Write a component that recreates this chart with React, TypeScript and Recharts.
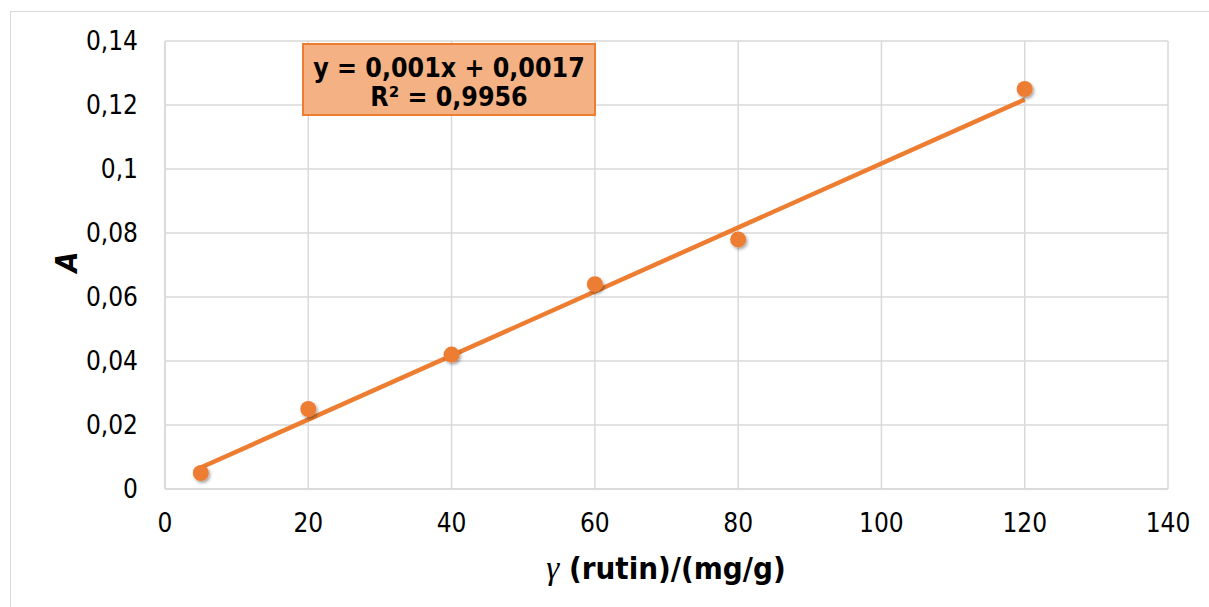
import React from "react";
import { ScatterChart, Scatter, XAxis, YAxis, CartesianGrid } from "recharts";

const concentrations = [5, 20, 40, 60, 80, 120];
const absorbances = [0.005, 0.025, 0.042, 0.064, 0.078, 0.125];
const trendX = [5, 120];
const trendY = [0.0067, 0.1217];
const xTicks = [0, 20, 40, 60, 80, 100, 120, 140];
const yTicks = [0, 0.02, 0.04, 0.06, 0.08, 0.1, 0.12, 0.14];
const equationLine = "y = 0,001x + 0,0017";
const r2Line = "R² = 0,9956";

const points = concentrations.map((x, i) => ({ x, y: absorbances[i] }));
const trend = trendX.map((x, i) => ({ x, y: trendY[i] }));

const ORANGE = "#ED7D31";
const GRID = "#D9D9D9";
const FONT = "'DejaVu Sans Condensed', 'DejaVu Sans', sans-serif";

const fmt = (v: number) => String(v).replace(".", ",");

const Dot = (props: any) => {
  const { cx, cy } = props;
  if (cx == null || cy == null) return null;
  return <circle cx={cx} cy={cy} r={8} fill={ORANGE} filter="url(#shadow)" />;
};

export default function App() {
  return (
    <div style={{ position: "absolute", left: 0, top: 0, width: 1209, height: 607, overflow: "hidden", background: "#fff" }}>
      <div style={{ position: "absolute", left: 10, top: 11, width: 1240, height: 640, border: `1px solid ${GRID}` }} />
      <div style={{ position: "absolute", left: 0, top: 0 }}>
        <ScatterChart width={1209} height={607} margin={{ top: 41, right: 41, bottom: 88, left: 0 }}>
          <defs>
            <filter id="shadow" x="-50%" y="-50%" width="200%" height="200%">
              <feDropShadow dx="1.5" dy="2" stdDeviation="1.5" floodColor="#000" floodOpacity="0.35" />
            </filter>
          </defs>
          <CartesianGrid stroke={GRID} strokeWidth={1.5} horizontalValues={yTicks} verticalValues={xTicks} />
          <XAxis
            type="number"
            dataKey="x"
            domain={[0, 140]}
            ticks={xTicks}
            tickSize={0}
            tickMargin={25}
            height={30}
            axisLine={{ stroke: GRID, strokeWidth: 1.5 }}
            tick={{ fill: "#000", fontSize: 26, fontFamily: FONT }}
            tickFormatter={fmt}
            interval={0}
          />
          <YAxis
            type="number"
            dataKey="y"
            domain={[0, 0.14]}
            ticks={yTicks}
            width={165}
            tickSize={0}
            tickMargin={27}
            axisLine={{ stroke: GRID, strokeWidth: 1.5 }}
            tick={{ fill: "#000", fontSize: 26, fontFamily: FONT }}
            tickFormatter={fmt}
            interval={0}
          />
          <Scatter
            data={trend}
            line={{ stroke: ORANGE, strokeWidth: 4.5 }}
            shape={() => null}
            isAnimationActive={false}
          />
          <Scatter data={points} shape={Dot} isAnimationActive={false} />
        </ScatterChart>
      </div>
      <div
        style={{
          position: "absolute",
          left: 302,
          top: 43,
          width: 290,
          height: 61,
          background: "#F4B183",
          border: `2px solid ${ORANGE}`,
          fontFamily: FONT,
          fontWeight: "bold",
          fontSize: 26.5,
          lineHeight: "29px",
          textAlign: "center",
          color: "#000",
          paddingTop: 8,
          boxSizing: "content-box",
          whiteSpace: "nowrap",
        }}
      >
        <div>{equationLine}</div>
        <div>{r2Line}</div>
      </div>
      <div
        style={{
          position: "absolute",
          left: 466,
          width: 400,
          top: 550,
          textAlign: "center",
          fontFamily: FONT,
          fontWeight: "bold",
          fontSize: 31,
          color: "#000",
          whiteSpace: "nowrap",
        }}
      >
        <span style={{ fontFamily: "'Liberation Serif', serif", fontStyle: "italic", fontWeight: "normal", fontSize: 33 }}>γ</span>
        {" (rutin)/(mg/g)"}
      </div>
      <div
        style={{
          position: "absolute",
          left: 66,
          top: 262,
          transform: "translate(-50%, -50%) rotate(-90deg)",
          fontFamily: FONT,
          fontWeight: "bold",
          fontStyle: "italic",
          fontSize: 30,
          color: "#000",
        }}
      >
        A
      </div>
    </div>
  );
}
